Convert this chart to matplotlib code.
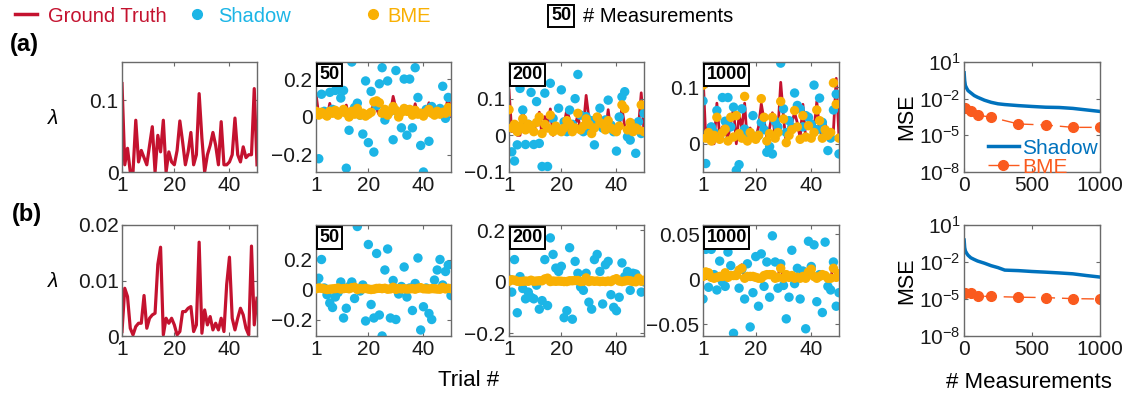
import numpy as np
import matplotlib
matplotlib.use('Agg')
import matplotlib.pyplot as plt
from matplotlib.lines import Line2D
from matplotlib import ticker

plt.rcParams['font.family'] = ['Liberation Sans', 'DejaVu Sans']
plt.rcParams['mathtext.fontset'] = 'custom'
plt.rcParams['mathtext.rm'] = 'Liberation Sans'
plt.rcParams['mathtext.default'] = 'regular'

RED = '#C4122F'
CYAN = '#1CB5E6'
ORANGE = '#F9B003'
BLUE = '#0072BD'
ORRED = '#FA5A1E'
SPINE = '#6a6a6a'

trials = np.arange(1, 51)

# ground truth lambda per trial
gt_a = [0.123, 0.010, 0.033, 0.000, 0.000, 0.072, 0.014, 0.030, 0.020, 0.010,
        0.037, 0.063, 0.000, 0.051, 0.028, 0.072, 0.000, 0.028, 0.014, 0.010,
        0.030, 0.071, 0.042, 0.010, 0.028, 0.055, 0.010, 0.024, 0.109, 0.047,
        0.000, 0.024, 0.037, 0.055, 0.037, 0.010, 0.070, 0.010, 0.010, 0.014,
        0.024, 0.075, 0.024, 0.014, 0.035, 0.020, 0.024, 0.024, 0.116, 0.010]
gt_b = [0.0008, 0.0086, 0.0071, 0.0014, 0.0002, 0.0017, 0.0023, 0.0023, 0.0073, 0.0014,
        0.0032, 0.0038, 0.0041, 0.0129, 0.0160, 0.0002, 0.0032, 0.0023, 0.0032, 0.0020,
        0.0002, 0.0008, 0.0044, 0.0044, 0.0050, 0.0053, 0.0008, 0.0020, 0.0169, 0.0005,
        0.0047, 0.0020, 0.0035, 0.0011, 0.0023, 0.0011, 0.0032, 0.0008, 0.0093, 0.0142,
        0.0032, 0.0011, 0.0032, 0.0050, 0.0038, 0.0014, 0.0002, 0.0162, 0.0020, 0.0068]

# (a) estimates
shadow_a50 = [0.020, -0.220, 0.120, 0.030, 0.010, 0.130, 0.040, 0.140, 0.145, 0.100,
              0.140, -0.270, -0.070, 0.290, 0.050, 0.073, 0.010, -0.090, 0.190, -0.135,
              0.135, -0.185, 0.060, 0.175, 0.260, -0.016, 0.190, 0.030, -0.120, 0.245,
              0.020, -0.057, 0.200, -0.096, 0.200, -0.057, 0.260, 0.103, -0.150, -0.290,
              0.040, -0.128, 0.055, 0.030, 0.020, 0.045, 0.162, -0.007, 0.103, 0.040]
bme_a50 = [0.030, 0.010, 0.025, 0.015, 0.005, 0.030, 0.020, 0.035, 0.010, 0.025,
           0.040, 0.020, 0.000, 0.030, 0.015, 0.045, 0.010, 0.020, 0.005, 0.015,
           0.025, 0.080, 0.085, 0.075, 0.020, 0.040, 0.010, 0.030, 0.055, 0.035,
           0.000, 0.025, 0.045, 0.030, 0.040, 0.010, 0.035, 0.015, 0.020, 0.005,
           0.025, 0.040, 0.020, 0.010, 0.030, 0.015, 0.025, 0.020, 0.050, 0.030]
shadow_a200 = [0.020, -0.045, -0.070, -0.026, 0.128, 0.069, -0.025, 0.030, 0.117, -0.025,
               0.092, -0.022, -0.085, 0.115, -0.085, 0.142, 0.046, 0.020, 0.074, 0.124,
               0.037, 0.010, 0.069, 0.030, 0.100, 0.166, 0.055, 0.010, 0.051, 0.024,
               0.040, -0.026, 0.030, 0.074, 0.020, 0.042, 0.096, 0.028, 0.010, -0.043,
               0.050, 0.105, 0.119, -0.004, -0.013, 0.030, -0.049, 0.037, 0.005, 0.060]
bme_a200 = [0.070, 0.020, 0.030, 0.010, 0.025, 0.045, 0.015, 0.030, 0.020, 0.010,
            0.035, 0.050, 0.005, 0.030, 0.020, 0.055, 0.010, 0.025, 0.015, 0.010,
            0.020, 0.040, 0.030, 0.010, 0.020, 0.060, 0.015, 0.025, 0.045, 0.030,
            0.005, 0.020, 0.050, 0.035, 0.030, 0.015, 0.040, 0.020, 0.015, 0.010,
            0.025, 0.083, 0.073, 0.015, 0.035, 0.010, 0.020, 0.015, 0.083, 0.010]
shadow_a1000 = [0.076, -0.035, 0.018, 0.030, 0.020, 0.059, 0.010, 0.082, 0.040, 0.082,
                0.030, 0.065, -0.047, -0.037, 0.062, 0.026, 0.020, 0.018, 0.050, 0.010,
                0.015, 0.038, 0.025, -0.015, -0.005, -0.018, 0.040, 0.030, 0.143, 0.062,
                0.020, 0.041, 0.030, 0.090, 0.068, 0.062, 0.030, 0.050, 0.047, 0.035,
                0.104, 0.025, 0.081, 0.038, 0.020, -0.012, 0.010, 0.060, 0.088, -0.018]
bme_a1000 = [0.104, 0.010, 0.020, 0.005, 0.015, 0.047, 0.008, 0.020, 0.026, 0.005,
             0.047, 0.012, 0.050, 0.018, 0.010, 0.084, 0.005, 0.020, 0.012, 0.008,
             0.015, 0.080, 0.047, 0.005, 0.018, 0.047, 0.010, 0.020, 0.075, 0.044,
             0.002, 0.015, 0.025, 0.059, 0.030, 0.008, 0.050, 0.012, 0.032, 0.010,
             0.020, 0.060, 0.041, 0.010, 0.025, 0.015, 0.020, 0.108, 0.070, 0.010]

# (b) estimates
shadow_b50 = [0.040, 0.075, 0.200, 0.010, -0.035, -0.090, -0.120, -0.050, -0.020, 0.050,
              -0.190, -0.125, 0.020, 0.050, -0.060, 0.420, -0.010, 0.030, -0.210, 0.300,
              -0.100, -0.190, 0.240, -0.170, -0.310, 0.130, 0.270, -0.190, 0.060, -0.200,
              -0.030, 0.020, 0.150, -0.050, 0.010, -0.140, 0.040, 0.210, -0.270, -0.115,
              0.010, -0.160, -0.200, 0.063, 0.130, 0.200, 0.030, 0.120, 0.163, -0.040]
bme_b50 = [0.005, 0.010, 0.008, 0.004, 0.000, 0.002, 0.004, 0.006, 0.010, 0.003,
           0.006, 0.008, 0.005, 0.012, 0.015, 0.000, 0.006, 0.004, 0.007, 0.003,
           0.000, 0.002, 0.007, 0.008, 0.006, 0.008, 0.002, 0.004, 0.015, 0.001,
           0.006, 0.004, 0.005, 0.003, 0.004, 0.006, 0.002, 0.008, 0.012, 0.005,
           0.004, 0.003, 0.006, 0.005, 0.003, 0.002, 0.014, 0.004, 0.008, 0.006]
shadow_b200 = [0.010, -0.040, 0.086, -0.120, 0.020, -0.026, -0.066, -0.040, -0.060, -0.066,
               -0.013, -0.106, -0.073, 0.086, -0.092, 0.170, 0.106, 0.053, 0.040, 0.060,
               -0.139, -0.112, 0.132, -0.145, 0.079, 0.033, -0.020, -0.033, 0.033, -0.079,
               -0.106, 0.086, 0.106, 0.040, -0.086, 0.066, 0.079, -0.050, -0.099, -0.112,
               -0.060, 0.073, 0.020, 0.040, -0.033, 0.033, 0.030, 0.007, -0.040, 0.000]
bme_b200 = [0.002, 0.008, 0.006, 0.002, 0.001, 0.002, 0.003, 0.002, 0.006, 0.002,
            0.003, 0.004, 0.004, 0.011, 0.014, 0.001, 0.003, 0.002, 0.003, 0.002,
            0.001, 0.001, 0.004, 0.004, 0.005, 0.005, 0.001, 0.002, 0.015, 0.001,
            0.004, 0.002, 0.003, 0.001, 0.002, 0.001, 0.003, 0.001, 0.008, 0.012,
            0.003, 0.001, 0.003, 0.005, 0.004, 0.001, 0.000, 0.014, 0.002, 0.006]
shadow_b1000 = [-0.022, 0.033, -0.009, 0.033, 0.005, -0.012, 0.020, -0.003, -0.008, 0.030,
                0.015, -0.060, 0.005, -0.010, 0.011, -0.022, 0.017, -0.053, -0.015, 0.025,
                -0.030, 0.028, -0.008, 0.019, -0.020, 0.048, 0.019, -0.010, 0.017, -0.007,
                -0.044, -0.020, 0.032, -0.005, 0.012, -0.022, 0.009, -0.055, 0.042, 0.014,
                0.038, -0.025, 0.005, -0.037, 0.041, -0.008, -0.012, 0.019, -0.030, -0.015]
bme_b1000 = [0.003, 0.008, 0.007, 0.002, 0.001, 0.002, 0.003, 0.003, 0.007, 0.002,
             0.004, 0.004, 0.004, 0.010, 0.012, 0.001, 0.003, 0.003, 0.003, 0.002,
             0.001, 0.001, 0.004, 0.005, 0.005, 0.005, 0.001, 0.002, 0.012, 0.001,
             0.005, 0.002, 0.004, 0.001, 0.002, 0.001, 0.003, 0.001, 0.008, 0.011,
             0.003, 0.001, 0.003, 0.005, 0.004, 0.001, 0.001, 0.012, 0.002, 0.006]

# MSE vs number of measurements
n_shadow = [1, 5, 10, 20, 30, 50, 75, 100, 150, 200, 250, 300, 400, 500, 600, 700, 800, 900, 1000]
mse_shadow_a = [1.3, 0.3, 0.12, 0.07, 0.045, 0.03, 0.018, 0.013, 0.0075, 0.005, 0.0038,
                0.0033, 0.0027, 0.0023, 0.002, 0.0019, 0.0016, 0.0012, 0.0009]
mse_shadow_b = [0.6, 0.15, 0.08, 0.05, 0.035, 0.022, 0.016, 0.012, 0.008, 0.005, 0.0035,
                0.0022, 0.002, 0.0017, 0.0015, 0.0013, 0.0011, 0.0008, 0.0006]
n_bme = [10, 50, 100, 200, 400, 600, 800, 1000]
mse_bme_a = [1.6e-3, 1.0e-3, 4.6e-4, 3.0e-4, 8.5e-5, 7.0e-5, 4.5e-5, 4.5e-5]
mse_bme_b = [2.9e-5, 2.9e-5, 1.7e-5, 1.6e-5, 1.4e-5, 1.3e-5, 1.07e-5, 1.0e-5]

W, H = 1141, 398
fig = plt.figure(figsize=(W / 100, H / 100), dpi=100)


def px_axes(x0, x1, top, bottom):
    return fig.add_axes([x0 / W, 1 - bottom / H, (x1 - x0) / W, (bottom - top) / H])


fmt = ticker.FuncFormatter(lambda v, _: f'{v:g}'.replace('-', '\u2212'))


def style(ax):
    for s in ax.spines.values():
        s.set_color(SPINE)
        s.set_linewidth(1.0)
    ax.tick_params(direction='in', top=True, right=True, length=3, width=0.8,
                   color=SPINE, labelsize=15, labelcolor='#1a1a1a', pad=3)
    ax.tick_params(axis='y', pad=2.5)


cols = [(122, 257), (316, 451), (509, 644), (703, 839)]
rows = [(62, 172), (225, 336)]
mse_x = (964, 1100)

rows_data = [
    dict(gt=gt_a, gt_ylim=(0, 0.153), gt_ticks=[0, 0.1],
         panels=[(shadow_a50, bme_a50, (-0.29, 0.29), [-0.2, 0, 0.2], '50'),
                 (shadow_a200, bme_a200, (-0.1, 0.2), [-0.1, 0, 0.1], '200'),
                 (shadow_a1000, bme_a1000, (-0.05, 0.145), [0, 0.1], '1000')],
         mse_s=mse_shadow_a, mse_b=mse_bme_a),
    dict(gt=gt_b, gt_ylim=(0, 0.02), gt_ticks=[0, 0.01, 0.02],
         panels=[(shadow_b50, bme_b50, (-0.31, 0.43), [-0.2, 0, 0.2], '50'),
                 (shadow_b200, bme_b200, (-0.21, 0.22), [-0.2, 0, 0.2], '200'),
                 (shadow_b1000, bme_b1000, (-0.063, 0.06), [-0.05, 0, 0.05], '1000')],
         mse_s=mse_shadow_b, mse_b=mse_bme_b),
]

for r, rd in enumerate(rows_data):
    top, bottom = rows[r]
    # ground truth panel
    ax = px_axes(cols[0][0], cols[0][1], top, bottom)
    ax.plot(trials, rd['gt'], color=RED, lw=2.3)
    ax.set_xlim(1, 50)
    ax.set_ylim(*rd['gt_ylim'])
    ax.set_xticks([1, 20, 40])
    ax.set_yticks(rd['gt_ticks'])
    ax.yaxis.set_major_formatter(fmt)
    style(ax)
    fig.text(53 / W, 1 - ((top + bottom) / 2 + 1) / H, '\u03bb', fontsize=15,
             ha='center', va='center', style='italic')

    for c, (sh, bm, ylim, yt, lab) in enumerate(rd['panels']):
        ax = px_axes(cols[c + 1][0], cols[c + 1][1], top, bottom)
        ax.plot(trials, rd['gt'], color=RED, lw=2.0, zorder=1)
        ax.scatter(trials, sh, s=46, color=CYAN, edgecolors='none', zorder=2)
        ax.scatter(trials, bm, s=46, color=ORANGE, edgecolors='none', zorder=3)
        ax.set_xlim(1, 50)
        ax.set_ylim(*ylim)
        ax.set_xticks([1, 20, 40])
        ax.set_yticks(yt)
        ax.yaxis.set_major_formatter(fmt)
        style(ax)
        ax.text(0.025, 0.96, lab, transform=ax.transAxes, ha='left', va='top',
                fontsize=13, fontweight='bold', zorder=5,
                bbox=dict(boxstyle='square,pad=0.15', fc='white', ec='black', lw=1.4))

    # MSE panel
    ax = px_axes(mse_x[0], mse_x[1], top, bottom)
    hs, = ax.plot(n_shadow, rd['mse_s'], color=BLUE, lw=2.5)
    hb, = ax.plot(n_bme, rd['mse_b'], color=ORRED, lw=1.0, ls=(0, (9, 5)),
                  marker='o', ms=7, mec=ORRED, mfc=ORRED)
    ax.set_yscale('log')
    ax.set_xlim(0, 1000)
    ax.set_ylim(1e-8, 1e1)
    ax.set_xticks([0, 500, 1000])
    ax.set_yticks([1e-8, 1e-5, 1e-2, 1e1])
    ax.yaxis.set_minor_locator(ticker.NullLocator())
    style(ax)
    fig.text(907 / W, 1 - ((top + bottom) / 2) / H, 'MSE', fontsize=15.5,
             rotation=90, ha='center', va='center')
    if r == 0:
        ax.legend([hs, hb], ['Shadow', 'BME'], loc='lower right',
                  bbox_to_anchor=(1.0, -0.06), frameon=False, fontsize=15,
                  labelcolor='linecolor', handlelength=1.5, handletextpad=0.15,
                  labelspacing=0.0, borderpad=0.1, borderaxespad=0.0)

# panel letters and axis labels
fig.text(10 / W, 1 - 45 / H, '(a)', fontsize=17, fontweight='bold', va='center')
fig.text(12 / W, 1 - 215 / H, '(b)', fontsize=17, fontweight='bold', va='center')
fig.text(469 / W, 1 - 381 / H, 'Trial #', fontsize=16, ha='center', va='center')
fig.text(1029 / W, 1 - 382 / H, '# Measurements', fontsize=16, ha='center', va='center')

# top legend
ly = 1 - 16 / H
fig.legend([Line2D([], [], color=RED, lw=2.5)], ['Ground Truth'], loc='center left',
           bbox_to_anchor=(15 / W, ly), frameon=False, fontsize=14.5, labelcolor=RED,
           handlelength=1.1, handletextpad=0.55, borderpad=0, borderaxespad=0)
fig.legend([Line2D([], [], ls='none', marker='o', ms=7, color=CYAN)], ['Shadow'],
           loc='center left', bbox_to_anchor=(189 / W, ly), frameon=False, fontsize=14.5,
           labelcolor=CYAN, handlelength=0.8, handletextpad=0.65, borderpad=0, borderaxespad=0)
fig.legend([Line2D([], [], ls='none', marker='o', ms=7, color=ORANGE)], ['BME'],
           loc='center left', bbox_to_anchor=(365 / W, ly), frameon=False, fontsize=14.5,
           labelcolor=ORANGE, handlelength=0.8, handletextpad=0.3, borderpad=0, borderaxespad=0)
fig.text(561 / W, ly, '50', fontsize=13, fontweight='bold', ha='center', va='center',
         bbox=dict(boxstyle='square,pad=0.15', fc='white', ec='black', lw=1.4))
fig.text(583 / W, ly, '# Measurements', fontsize=14.5, ha='left', va='center')

fig.savefig('out.png', dpi=100)
